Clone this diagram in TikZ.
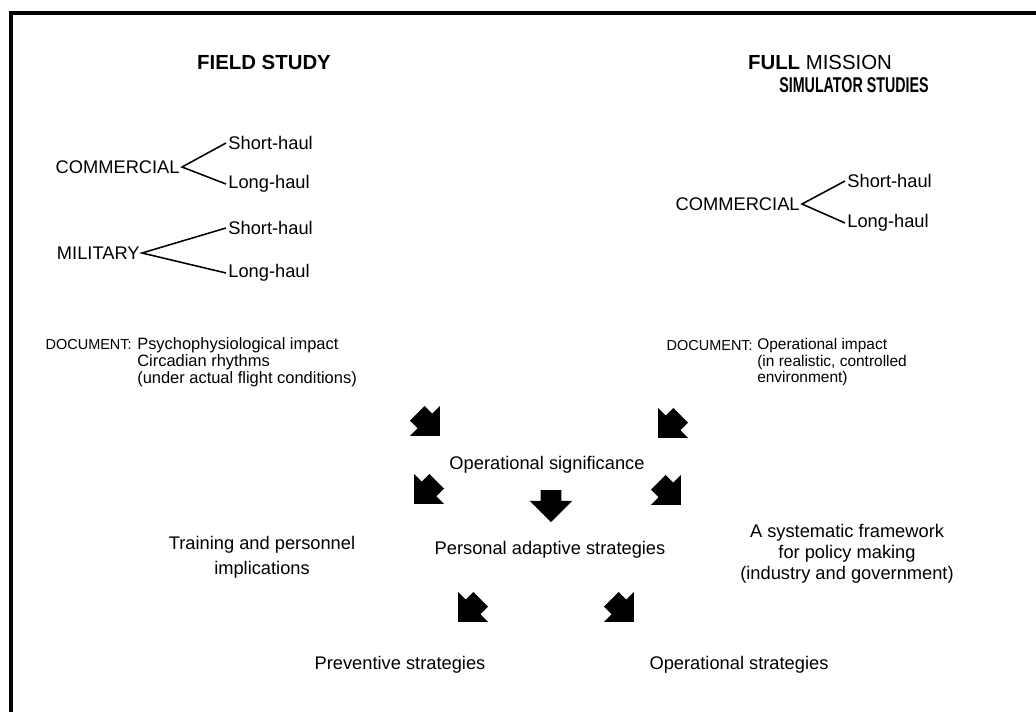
\documentclass[tikz,border=0pt]{standalone}
\usepackage{fontspec}
\usepackage{graphicx}
\setmainfont{Liberation Sans}
\usetikzlibrary{shapes.arrows,positioning}

\begin{document}
\begin{tikzpicture}[
    x=0.025cm,
    y=-0.025cm,
    txt/.style={
        inner sep=0pt,
        font=\fontsize{13}{15}\selectfont
    },
    heading/.style={
        inner sep=0pt,
        font=\fontsize{14.5}{17}\selectfont\bfseries
    },
    branch/.style={
        inner sep=1.5pt,
        font=\fontsize{13}{15}\selectfont
    },
    doc/.style={
        inner sep=0pt,
        align=left,
        font=\fontsize{11.7}{12.1}\selectfont
    },
    fat/.style={
        single arrow,
        fill=black,
        draw=none,
        inner xsep=0pt,
        inner ysep=0.25cm,
        minimum height=0.8cm,
        single arrow head extend=0.275cm
    },
    fork/.style={
        line width=1.1pt
    }
  ]

 \useasboundingbox (0,0) rectangle (1036,712);

% // frame
 \draw [line width=2.2pt] (1036,13) -- (11,13) -- (11,712);

% // headings
 \node [heading] (field) at (264,62) {FIELD STUDY};
 \node [heading, font=\fontsize{14.5}{17}\selectfont] (full) at (820,62) {\textbf{FULL} MISSION};
 \node [heading] (sim) at (854,85) {\scalebox{0.7}[1.05]{SIMULATOR STUDIES}};

% // field study
 \node [branch, anchor=east] (com1) at (182,167) {COMMERCIAL};
 \node [branch, anchor=west] (short1) at (226,143) {Short-haul};
 \node [branch, anchor=west] (long1) at (226,184) {Long-haul};
 \draw [fork] (short1.west) -- (com1.east) -- (long1.west);

 \node [branch, anchor=east] (mil) at (142,253) {MILITARY};
 \node [branch, anchor=west] (short2) at (226,228) {Short-haul};
 \node [branch, anchor=west] (long2) at (226,273) {Long-haul};
 \draw [fork] (short2.west) -- (mil.east) -- (long2.west);

% // simulator studies
 \node [branch, anchor=east] (com2) at (802,204) {COMMERCIAL};
 \node [branch, anchor=west] (short3) at (845,181) {Short-haul};
 \node [branch, anchor=west] (long3) at (845,223) {Long-haul};
 \draw [fork] (short3.west) -- (com2.east) -- (long3.west);

% // documents
 \node [doc, anchor=west] (impact1) at (137,362)
 {Psychophysiological impact\\
  Circadian rhythms\\
  (under actual flight conditions)};
 \node [txt, anchor=east, font=\fontsize{10.3}{12}\selectfont] (doc1) at (132,345) {DOCUMENT:};

 \node [doc, anchor=west, font=\fontsize{11}{11.4}\selectfont] (impact2) at (757,362)
 {Operational impact\\
  (in realistic, controlled\\
  environment)};
 \node [txt, anchor=east, font=\fontsize{10.3}{12}\selectfont] (doc2) at (753,346) {DOCUMENT:};

% // results
 \node [txt] (opsig) at (547,465) {Operational significance};
 \node [txt, align=center, font=\fontsize{13}{17.8}\selectfont] (train) at (262,557)
 {Training and personnel\\implications};
 \node [txt] (adapt) at (550,550) {Personal adaptive strategies};
 \node [txt, align=center, font=\fontsize{13}{15}\selectfont] (policy) at (847,554)
 {A systematic framework\\for policy making\\(industry and government)};
 \node [txt] (prevent) at (400,665) {Preventive strategies};
 \node [txt] (opstrat) at (739,665) {Operational strategies};

% // block arrows
 \node [fat, rotate=-45] (arr1) at (425,421) {};
 \node [fat, rotate=-135] (arr2) at (673,423) {};
 \node [fat, rotate=-135] (arr3) at (429,489) {};
 \node [fat, rotate=-90] (arr4) at (551,501) {};
 \node [fat, rotate=-45] (arr5) at (666,490) {};
 \node [fat, rotate=-135] (arr6) at (473,607) {};
 \node [fat, rotate=-45] (arr7) at (619,607) {};

\end{tikzpicture}
\end{document}
